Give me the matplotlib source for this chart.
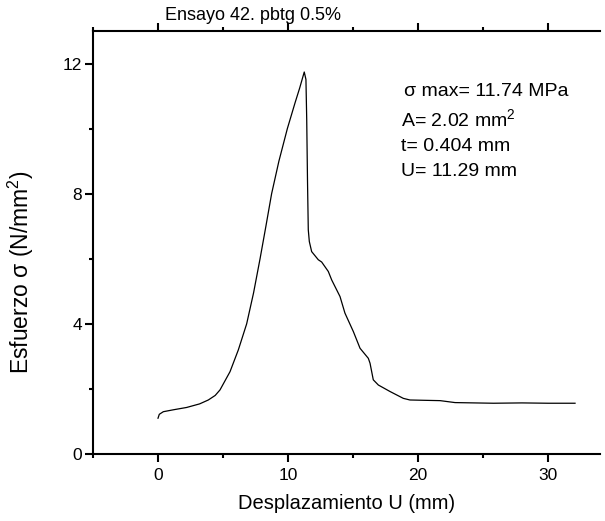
import matplotlib
matplotlib.use("Agg")
import matplotlib.pyplot as plt
from matplotlib.ticker import MultipleLocator

plt.rcParams['font.family'] = ['Liberation Sans', 'DejaVu Sans']
plt.rcParams['mathtext.fontset'] = 'custom'
plt.rcParams['mathtext.rm'] = 'Liberation Sans'
plt.rcParams['mathtext.default'] = 'regular'

# displacement (mm) and stress (N/mm^2)
desplazamiento = [0.0, 0.1, 0.41, 1.2, 2.2, 3.2, 3.87, 4.4, 4.77, 5.54, 6.18,
                  6.82, 7.35, 7.85, 8.3, 8.74, 9.3, 9.95, 10.54, 10.9, 11.25,
                  11.38, 11.44, 11.5, 11.56, 11.64, 11.82, 12.33, 12.59, 13.1,
                  13.36, 14.0, 14.38, 15.03, 15.54, 16.18, 16.31, 16.56, 16.95,
                  17.85, 18.87, 19.38, 20.5, 21.7, 22.85, 25.8, 28.0, 30.0, 32.08]
esfuerzo = [1.10, 1.22, 1.30, 1.36, 1.43, 1.54, 1.66, 1.80, 1.97, 2.53, 3.20,
            4.00, 4.95, 6.00, 7.00, 8.00, 9.00, 10.00, 10.79, 11.25, 11.74,
            11.51, 10.28, 8.4, 6.89, 6.53, 6.22, 5.97, 5.90, 5.61,
            5.35, 4.84, 4.33, 3.76, 3.25, 2.94, 2.79, 2.28, 2.12,
            1.92, 1.71, 1.66, 1.65, 1.64, 1.58, 1.56, 1.57, 1.56, 1.56]

anotaciones = ["σ max= 11.74 MPa", "A= 2.02 mm$^2$", "t= 0.404 mm", "U= 11.29 mm"]
anot_x = [0.613, 0.607, 0.607, 0.607]
anot_y = [0.856, 0.792, 0.726, 0.669]

fig = plt.figure(figsize=(6.05, 5.21), dpi=100)
ax = fig.add_axes([93 / 605, 67 / 521, 507 / 605, 423 / 521])

ax.plot(desplazamiento, esfuerzo, color='black', linewidth=0.9)

ax.set_xlim(-5, 34)
ax.set_ylim(0, 13)
ax.xaxis.set_major_locator(MultipleLocator(10))
ax.xaxis.set_minor_locator(MultipleLocator(5))
ax.yaxis.set_major_locator(MultipleLocator(4))
ax.yaxis.set_minor_locator(MultipleLocator(2))

ax.spines['right'].set_visible(False)
for s in ['left', 'bottom', 'top']:
    ax.spines[s].set_linewidth(1.5)

ax.tick_params(which='both', direction='out', top=True, right=False, width=1.5,
               labelsize=12.5)
ax.tick_params(which='major', length=6)
ax.tick_params(which='minor', length=3)
ax.tick_params(axis='x', pad=4)
ax.tick_params(axis='y', pad=2)

ax.set_xlabel("Desplazamiento U (mm)", fontsize=14.5, labelpad=8)
ax.set_ylabel("Esfuerzo σ (N/mm$^2$)", fontsize=16.5)
ax.yaxis.set_label_coords(-0.112, 0.43)

fig.text(165 / 605, 1 - 15 / 521, "Ensayo 42. pbtg 0.5%", fontsize=13,
         ha='left', va='center')

for txt, x, y in zip(anotaciones, anot_x, anot_y):
    ax.text(x, y, txt, transform=ax.transAxes, fontsize=14, ha='left', va='center')

fig.savefig("out.png", dpi=100)
